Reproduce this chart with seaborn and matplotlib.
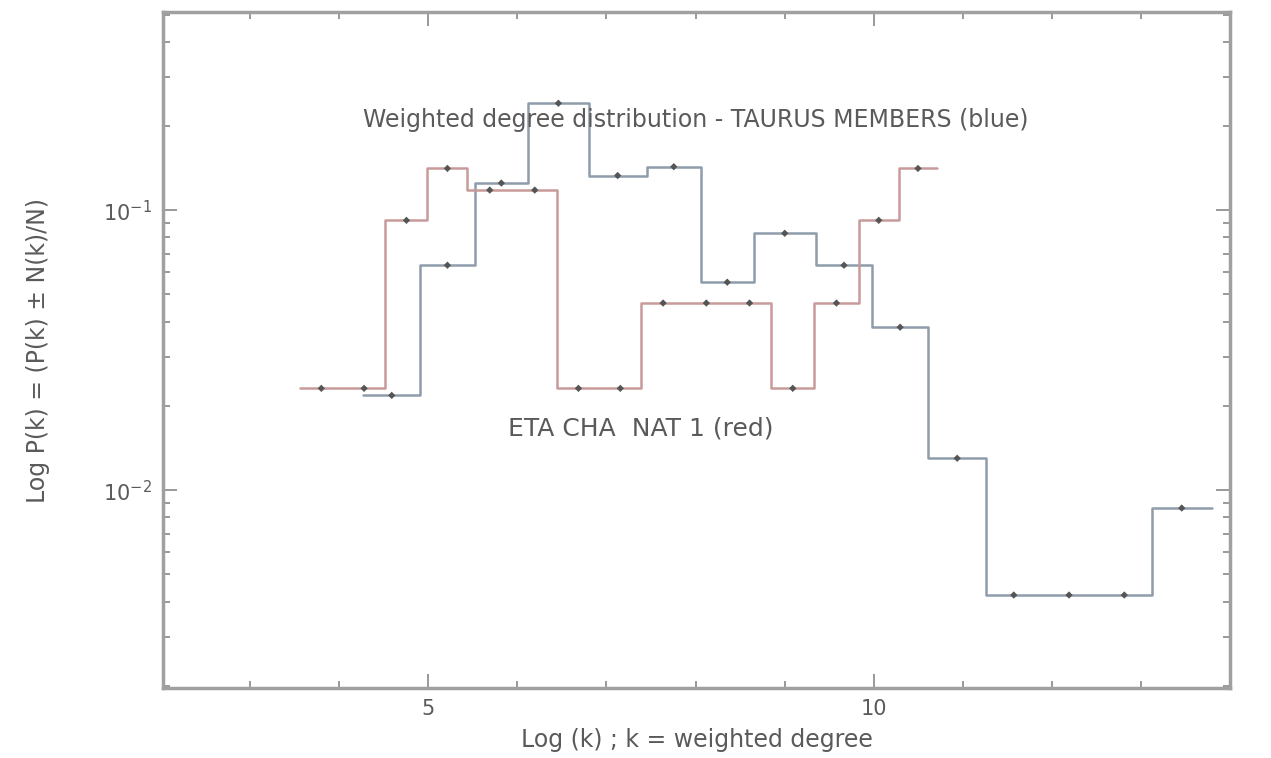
import matplotlib
matplotlib.use('Agg')
import matplotlib.pyplot as plt
import seaborn as sns
from matplotlib.ticker import MultipleLocator, FixedLocator, LogLocator, NullFormatter

# bin edges (x axis units) and fraction per bin
taurus_edges = [4.27, 4.91, 5.52, 6.12, 6.80, 7.45, 8.06, 8.65, 9.35, 9.98,
                10.61, 11.26, 11.88, 12.50, 13.12, 13.79]
taurus_frac = [0.0218, 0.0636, 0.125, 0.241, 0.133, 0.143, 0.0553, 0.0827,
               0.0636, 0.0382, 0.0130, 0.00422, 0.00422, 0.00422, 0.00863]

etacha_edges = [3.56, 4.04, 4.52, 4.99, 5.44, 5.94, 6.45, 6.92, 7.39, 7.88,
                8.36, 8.85, 9.33, 9.83, 10.28, 10.71]
etacha_frac = [0.0231, 0.0231, 0.092, 0.141, 0.118, 0.118, 0.0231, 0.0231,
               0.0466, 0.0466, 0.0466, 0.0231, 0.0466, 0.092, 0.141]

blue_col = '#8f9cab'
red_col = '#c89a9a'
txt_col = '#5a5a5a'

sns.set_theme(style='ticks')
plt.rcParams['font.family'] = ['DejaVu Sans']

fig = plt.figure(figsize=(12.71, 7.58), dpi=100)
ax = fig.add_axes([0.128, 0.092, 0.840, 0.892])

for edges, frac, col in [(taurus_edges, taurus_frac, blue_col),
                         (etacha_edges, etacha_frac, red_col)]:
    mids = [(a + b) / 2 for a, b in zip(edges[:-1], edges[1:])]
    sns.histplot(x=mids, weights=frac, bins=edges, element='step', fill=False,
                 color=col, linewidth=1.8, ax=ax)
    sns.scatterplot(x=mids, y=frac, marker='D', s=14, color='#555555',
                    edgecolor='none', ax=ax, zorder=3)

ax.set_yscale('log')
ax.set_xlim(2.02, 14.0)
ax.set_ylim(0.00196, 0.51)

ax.xaxis.set_major_locator(FixedLocator([5, 10]))
ax.xaxis.set_minor_locator(MultipleLocator(1))
ax.yaxis.set_major_locator(LogLocator(base=10))
ax.yaxis.set_minor_locator(LogLocator(base=10, subs=range(2, 10)))
ax.yaxis.set_minor_formatter(NullFormatter())
ax.tick_params(which='both', direction='in', top=True, right=True,
               color='#888888', labelcolor=txt_col, labelsize=15, width=1.2)
ax.tick_params(which='major', length=10, pad=8)
ax.tick_params(which='minor', length=5)

for sp in ax.spines.values():
    sp.set_color('#a0a0a0')
    sp.set_linewidth(2.5)

ax.set_xlabel('Log (k) ; k = weighted degree', color=txt_col, fontsize=17, labelpad=6)
ax.set_ylabel('Log P(k) = (P(k) ± N(k)/N)', color=txt_col, fontsize=17, labelpad=38)

ax.text(8.0, 0.21, 'Weighted degree distribution - TAURUS MEMBERS (blue)',
        ha='center', va='center', color=txt_col, fontsize=17)
ax.text(7.38, 0.0166, 'ETA CHA  NAT 1 (red)', ha='center', va='center',
        color=txt_col, fontsize=18)

plt.savefig('out.png', dpi=100)
plt.close()
